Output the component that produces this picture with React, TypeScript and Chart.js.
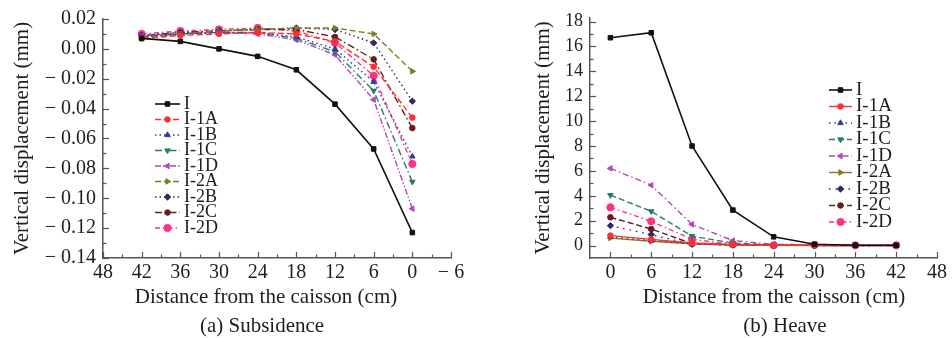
import React, { useEffect, useRef } from 'react';
import { Chart, registerables } from 'chart.js';
import { drawPoint } from 'chart.js/helpers';

Chart.register(...registerables);

const FONT = '"Liberation Serif", "Times New Roman", serif';
const TEXT = '#1e1e1e';
const AXIS = '#555555';

// Distance from the caisson (cm)
const DISTANCE = [0, 6, 12, 18, 24, 30, 36, 42];
const SERIES = ['I', 'I-1A', 'I-1B', 'I-1C', 'I-1D', 'I-2A', 'I-2B', 'I-2C', 'I-2D'];

// (a) Subsidence, vertical displacement (mm), in DISTANCE order
const SUB_I = [-0.123, -0.067, -0.037, -0.014, -0.005, 0.0, 0.005, 0.007];
const SUB_1A = [-0.046, -0.012, 0.005, 0.010, 0.011, 0.010, 0.009, 0.007];
const SUB_1B = [-0.072, -0.022, 0.0, 0.008, 0.011, 0.011, 0.010, 0.008];
const SUB_1C = [-0.089, -0.028, -0.002, 0.007, 0.011, 0.011, 0.010, 0.008];
const SUB_1D = [-0.107, -0.034, -0.004, 0.006, 0.010, 0.011, 0.010, 0.009];
const SUB_2A = [-0.015, 0.010, 0.014, 0.014, 0.013, 0.012, 0.010, 0.008];
const SUB_2B = [-0.035, 0.004, 0.013, 0.014, 0.013, 0.012, 0.011, 0.009];
const SUB_2C = [-0.053, -0.007, 0.008, 0.013, 0.013, 0.012, 0.011, 0.009];
const SUB_2D = [-0.077, -0.018, 0.004, 0.012, 0.014, 0.013, 0.012, 0.010];

// (b) Heave, vertical displacement (mm), in DISTANCE order
const HEAVE_I = [16.7, 17.1, 8.0, 2.85, 0.7, 0.1, 0.03, 0.02];
const HEAVE_1A = [0.8, 0.5, 0.2, 0.08, 0.03, 0.02, 0.01, 0.01];
const HEAVE_1B = [0.7, 0.4, 0.12, 0.05, 0.02, 0.01, 0.01, 0.0];
const HEAVE_1C = [4.05, 2.75, 0.75, 0.2, 0.05, 0.03, 0.02, 0.01];
const HEAVE_1D = [6.2, 4.85, 1.7, 0.4, 0.1, 0.05, 0.02, 0.01];
const HEAVE_2A = [0.6, 0.35, 0.15, 0.05, 0.02, 0.01, 0.01, 0.0];
const HEAVE_2B = [1.6, 0.88, 0.1, 0.05, 0.02, 0.01, 0.01, 0.0];
const HEAVE_2C = [2.27, 1.33, 0.15, 0.05, 0.02, 0.01, 0.01, 0.0];
const HEAVE_2D = [3.07, 1.95, 0.5, 0.1, 0.02, 0.05, 0.02, 0.02];

const SUB_X_TICKS = [48, 42, 36, 30, 24, 18, 12, 6, 0, -6];
const SUB_Y_TICKS = [0.02, 0, -0.02, -0.04, -0.06, -0.08, -0.1, -0.12, -0.14];
const HEAVE_X_TICKS = [0, 6, 12, 18, 24, 30, 36, 42, 48];
const HEAVE_Y_TICKS = [0, 2, 4, 6, 8, 10, 12, 14, 16, 18];

const SUB_VALUES = [SUB_I, SUB_1A, SUB_1B, SUB_1C, SUB_1D, SUB_2A, SUB_2B, SUB_2C, SUB_2D];
const HEAVE_VALUES = [HEAVE_I, HEAVE_1A, HEAVE_1B, HEAVE_1C, HEAVE_1D, HEAVE_2A, HEAVE_2B, HEAVE_2C, HEAVE_2D];

// styles
const COLORS = ['#111111', '#ff2d2d', '#2f3c9e', '#2b7a68', '#b347b8', '#807b22', '#34245f', '#6a1c1c', '#ff3185'];
const POINT_STYLES = ['rect', 'circle', 'triangle', 'triangle', 'triangle', 'triangle', 'rectRot', 'circle', 'circle'];
const POINT_ROT = [0, 0, 0, 180, -90, 90, 0, 0, 0];
const POINT_RADIUS = [3.2, 2.8, 3.2, 3.2, 3.2, 3.2, 3.2, 2.8, 3.6];
const DASH_SUB = [[], [6, 3], [1.5, 3], [7, 3, 1.5, 3], [6, 2, 1.5, 2, 1.5, 2], [6, 3], [1.5, 3], [7, 3, 1.5, 3], [5, 3, 1.5, 3]];
const DASH_HEAVE = [[], [], [1.5, 4], [6, 3], [6, 3, 1.5, 3], [], [1.5, 5], [6, 3], [5, 3, 1.5, 3]];

const axisTicksPlugin = {
  id: 'axisTicks',
  afterDraw(chart: any, _args: any, opts: any) {
    const ctx = chart.ctx;
    const { left, bottom } = chart.chartArea;
    ctx.save();
    ctx.strokeStyle = AXIS;
    ctx.lineWidth = 1.2;
    const drawFor = (scale: any, horizontal: boolean) => {
      const vals = scale.ticks.map((t: any) => t.value).sort((a: number, b: number) => a - b);
      const minors: number[] = [];
      for (let i = 0; i < vals.length - 1; i++) minors.push((vals[i] + vals[i + 1]) / 2);
      const mark = (v: number, len: number) => {
        const p = Math.round(scale.getPixelForValue(v)) + 0.5;
        ctx.beginPath();
        if (horizontal) {
          ctx.moveTo(p, bottom);
          ctx.lineTo(p, bottom - len);
        } else {
          ctx.moveTo(left, p);
          ctx.lineTo(left + len, p);
        }
        ctx.stroke();
      };
      vals.forEach((v: number) => mark(v, opts.major));
      minors.forEach((v: number) => mark(v, opts.minor));
    };
    drawFor(chart.scales.x, true);
    drawFor(chart.scales.y, false);
    ctx.restore();
  },
};

const lineLegendPlugin = {
  id: 'lineLegend',
  afterDraw(chart: any, _a: any, o: any) {
    const ctx = chart.ctx;
    ctx.save();
    chart.data.datasets.forEach((ds: any, i: number) => {
      const y = o.y + i * o.step;
      ctx.strokeStyle = ds.borderColor;
      ctx.lineWidth = ds.borderWidth;
      ctx.setLineDash(ds.borderDash || []);
      ctx.beginPath();
      ctx.moveTo(o.x0, y);
      ctx.lineTo(o.x1, y);
      ctx.stroke();
      ctx.setLineDash([]);
      ctx.fillStyle = ds.pointBackgroundColor;
      ctx.strokeStyle = ds.pointBorderColor;
      ctx.lineWidth = 1;
      drawPoint(ctx, { pointStyle: ds.pointStyle, rotation: ds.pointRotation, radius: ds.pointRadius, borderWidth: 1 } as any, (o.x0 + o.x1) / 2, y);
      ctx.fillStyle = TEXT;
      ctx.font = `${o.size}px ${FONT}`;
      ctx.textBaseline = 'middle';
      ctx.textAlign = 'left';
      ctx.fillText(ds.label, o.tx, y);
    });
    ctx.restore();
  },
};

const captionsPlugin = {
  id: 'captions',
  afterDraw(chart: any, _a: any, o: any) {
    const ctx = chart.ctx;
    ctx.save();
    ctx.fillStyle = TEXT;
    ctx.textAlign = 'center';
    ctx.textBaseline = 'middle';
    o.items.forEach((it: any) => {
      ctx.font = `${it.size}px ${FONT}`;
      ctx.fillText(it.text, it.x, it.y);
    });
    ctx.restore();
  },
};

function buildConfig(p: any): any {
  return {
    type: 'line',
    data: {
      datasets: SERIES.map((name, i) => ({
        label: name,
        data: DISTANCE.map((d, j) => ({ x: d, y: p.values[i][j] })),
        borderColor: COLORS[i],
        backgroundColor: COLORS[i],
        borderWidth: i === 0 ? 1.6 : 1.4,
        borderDash: p.dashes[i],
        pointStyle: POINT_STYLES[i],
        pointRotation: POINT_ROT[i],
        pointRadius: POINT_RADIUS[i],
        pointBackgroundColor: COLORS[i],
        pointBorderColor: COLORS[i],
        pointBorderWidth: 1,
        tension: 0,
        fill: false,
      })),
    },
    options: {
      responsive: false,
      animation: false,
      layout: { padding: p.padding },
      plugins: {
        legend: { display: false },
        tooltip: { enabled: false },
        title: { display: false },
        axisTicks: { major: 6, minor: 3.5 },
        lineLegend: p.legend,
        captions: { items: p.captions },
      },
      scales: {
        x: {
          type: 'linear',
          min: p.xMin,
          max: p.xMax,
          reverse: p.reverse,
          afterBuildTicks: (s: any) => {
            s.ticks = p.xTicks.map((v: number) => ({ value: v }));
          },
          afterFit: (s: any) => {
            s.height = 80;
          },
          grid: { display: false, drawTicks: false },
          border: { display: true, color: AXIS, width: 1.5 },
          ticks: { padding: 3, color: TEXT, font: { family: FONT, size: p.xTickSize }, maxRotation: 0, autoSkip: false, callback: p.xFmt },
        },
        y: {
          type: 'linear',
          min: p.yMin,
          max: p.yMax,
          afterBuildTicks: (s: any) => {
            s.ticks = p.yTicks.map((v: number) => ({ value: v }));
          },
          afterFit: (s: any) => {
            s.width = p.yWidth;
          },
          grid: { display: false, drawTicks: false },
          border: { display: true, color: AXIS, width: 1.5 },
          title: { display: true, text: 'Vertical displacement (mm)', color: TEXT, font: { family: FONT, size: 21 }, padding: { top: 10, bottom: 0 } },
          ticks: { padding: 7, color: TEXT, font: { family: FONT, size: p.yTickSize }, autoSkip: false, callback: p.yFmt },
        },
      },
    },
    plugins: [axisTicksPlugin, lineLegendPlugin, captionsPlugin],
  };
}

const subConfig = () =>
  buildConfig({
    values: SUB_VALUES,
    dashes: DASH_SUB,
    padding: { left: 0, right: 29, top: 17, bottom: 0 },
    xMin: -6,
    xMax: 48,
    reverse: true,
    xTicks: SUB_X_TICKS,
    yTicks: SUB_Y_TICKS,
    yMin: -0.14,
    yMax: 0.02,
    yWidth: 103,
    xTickSize: 20,
    yTickSize: 20,
    xFmt: (v: number) => (v < 0 ? '\u2212 ' + Math.abs(v) : String(v)),
    yFmt: (v: number) => (Math.abs(v) < 1e-9 ? '0.00' : v > 0 ? v.toFixed(2) : '\u2212 ' + Math.abs(v).toFixed(2)),
    legend: { x0: 155, x1: 180, tx: 184, y: 104, step: 15.5, size: 18 },
    captions: [
      { text: 'Distance from the caisson (cm)', x: 266, y: 297, size: 21 },
      { text: '(a) Subsidence', x: 262, y: 326, size: 21 },
    ],
  });

const heaveConfig = () =>
  buildConfig({
    values: HEAVE_VALUES,
    dashes: DASH_HEAVE,
    padding: { left: 41, right: 15, top: 17, bottom: 0 },
    xMin: -3,
    xMax: 48,
    reverse: false,
    xTicks: HEAVE_X_TICKS,
    yTicks: HEAVE_Y_TICKS,
    yMin: -1,
    yMax: 18.3,
    yWidth: 69,
    xTickSize: 20,
    yTickSize: 18,
    xFmt: (v: number) => String(v),
    yFmt: (v: number) => String(v),
    legend: { x0: 349, x1: 372, tx: 376, y: 90, step: 16.5, size: 19 },
    captions: [
      { text: 'Distance from the caisson (cm)', x: 294, y: 297, size: 21 },
      { text: '(b) Heave', x: 305, y: 326, size: 21 },
    ],
  });

function ChartCanvas({ width, height, makeConfig }: { width: number; height: number; makeConfig: () => any }) {
  const ref = useRef<HTMLCanvasElement | null>(null);
  useEffect(() => {
    if (!ref.current) return;
    const chart = new Chart(ref.current, makeConfig());
    return () => chart.destroy();
  }, [makeConfig]);
  return <canvas ref={ref} width={width} height={height} style={{ display: 'block', width, height }} />;
}

export default function App() {
  return (
    <div style={{ position: 'absolute', left: 0, top: 0, width: 952, height: 338, display: 'flex', background: '#fff' }}>
      <ChartCanvas width={480} height={338} makeConfig={subConfig} />
      <ChartCanvas width={472} height={338} makeConfig={heaveConfig} />
    </div>
  );
}
